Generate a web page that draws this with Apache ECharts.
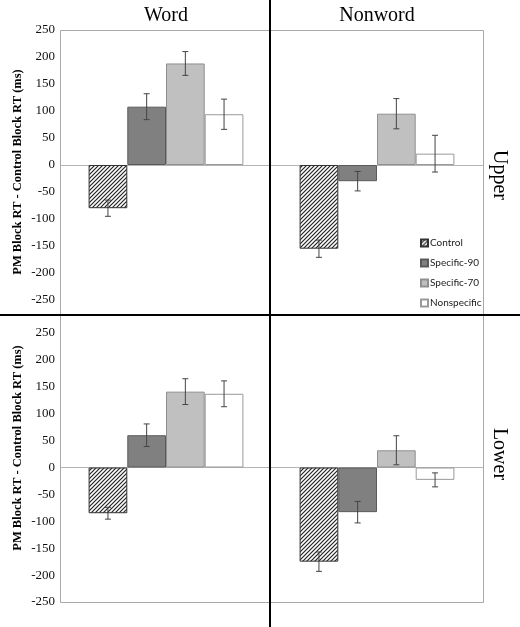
<!DOCTYPE html>
<html>
<head>
<meta charset="utf-8">
<script src="https://cdn.jsdelivr.net/npm/echarts@6/dist/echarts.min.js"></script>
<style>html,body{margin:0;padding:0;background:#fff}#c{width:520px;height:627px}</style>
</head>
<body>
<div id="c"></div>
<script>
// ---- data ----
const conditions = ['Control', 'Specific-90', 'Specific-70', 'Nonspecific'];
const columnTitles = ['Word', 'Nonword'];
const rowTitles = ['Upper', 'Lower'];
const yTicks = [-250, -200, -150, -100, -50, 0, 50, 100, 150, 200, 250];
const yAxisTitle = 'PM Block RT - Control Block RT (ms)';

const wordUpper = [-80, 108, 188, 94];
const wordUpperErr = [15, 24, 22, 28];
const nonwordUpper = [-155, -30, 95, 21];
const nonwordUpperErr = [16, 18, 28, 34];
const wordLower = [-85, 60, 141, 137];
const wordLowerErr = [11, 21, 24, 24];
const nonwordLower = [-175, -83, 32, -23];
const nonwordLowerErr = [18, 20, 27, 13];

const panelValues = [wordUpper, nonwordUpper, wordLower, nonwordLower];
const panelErrors = [wordUpperErr, nonwordUpperErr, wordLowerErr, nonwordLowerErr];

// ---- hatch pattern ----
const pc = document.createElement('canvas');
pc.width = 4; pc.height = 4;
const g = pc.getContext('2d');
g.fillStyle = '#fff'; g.fillRect(0, 0, 4, 4);
g.strokeStyle = '#222'; g.lineWidth = 1.2;
g.beginPath();
g.moveTo(0, 4); g.lineTo(4, 0);
g.moveTo(-1, 1); g.lineTo(1, -1);
g.moveTo(3, 5); g.lineTo(5, 3);
g.stroke();

const styles = [
  { color: { image: pc, repeat: 'repeat' }, borderColor: '#333', borderWidth: 1 },
  { color: '#808080', borderColor: '#5a5a5a', borderWidth: 1 },
  { color: '#c0c0c0', borderColor: '#8f8f8f', borderWidth: 1 },
  { color: '#ffffff', borderColor: '#9a9a9a', borderWidth: 1 }
];

const BW = 38.7;
const grids = [
  { left: 61, top: 30, width: 210, height: 270 },
  { left: 271, top: 30, width: 212, height: 270 },
  { left: 61, top: 333, width: 210, height: 269 },
  { left: 271, top: 333, width: 212, height: 269 }
];

const xAxes = [], yAxes = [], series = [];
grids.forEach((gr, p) => {
  xAxes.push({
    type: 'category', gridIndex: p, data: [columnTitles[p % 2]],
    axisLine: { onZero: true, lineStyle: { color: '#b5b5b5', width: 1 } },
    axisTick: { show: false }, axisLabel: { show: false }, splitLine: { show: false }
  });
  yAxes.push({
    type: 'value', gridIndex: p, min: yTicks[0], max: yTicks[yTicks.length - 1], interval: 50,
    axisLine: { show: false }, axisTick: { show: false }, splitLine: { show: false },
    axisLabel: { show: p % 2 === 0, fontFamily: 'Liberation Serif', fontSize: 13, color: '#111', margin: 6 }
  });
  conditions.forEach((name, k) => {
    series.push({
      name: name, type: 'bar', xAxisIndex: p, yAxisIndex: p,
      data: [panelValues[p][k]], barWidth: BW, barGap: '0%',
      itemStyle: styles[k], emphasis: { disabled: true }, animation: false
    });
  });
  series.push({
    type: 'custom', xAxisIndex: p, yAxisIndex: p, z: 5, animation: false,
    data: panelValues[p].map((v, k) => [0, v, panelErrors[p][k], k]),
    encode: { x: 0, y: 1 },
    renderItem: function (params, api) {
      const v = api.value(1), e = api.value(2), k = api.value(3);
      const cx = api.coord([0, 0])[0] + (k - 1.5) * BW;
      const yt = api.coord([0, v + e])[1];
      const yb = api.coord([0, v - e])[1];
      const st = { stroke: '#444', lineWidth: 1 };
      const cap = 3;
      return {
        type: 'group',
        children: [
          { type: 'line', shape: { x1: cx, y1: yt, x2: cx, y2: yb }, style: st },
          { type: 'line', shape: { x1: cx - cap, y1: yt, x2: cx + cap, y2: yt }, style: st },
          { type: 'line', shape: { x1: cx - cap, y1: yb, x2: cx + cap, y2: yb }, style: st }
        ]
      };
    }
  });
});

const graphic = [
  // panel frames
  { type: 'polyline', shape: { points: [[60.5, 315], [60.5, 30.5], [483.5, 30.5], [483.5, 315]] }, style: { stroke: '#a8a8a8', fill: null, lineWidth: 1 }, z: 1 },
  { type: 'polyline', shape: { points: [[60.5, 315], [60.5, 602.5], [483.5, 602.5], [483.5, 315]] }, style: { stroke: '#a8a8a8', fill: null, lineWidth: 1 }, z: 1 },
  // separators
  { type: 'line', shape: { x1: 270, y1: 0, x2: 270, y2: 627 }, style: { stroke: '#000', lineWidth: 2 }, z: 100 },
  { type: 'line', shape: { x1: 0, y1: 315, x2: 520, y2: 315 }, style: { stroke: '#000', lineWidth: 2 }, z: 100 },
  // column titles
  { type: 'text', x: 166, y: 16, style: { text: columnTitles[0], font: '20px "Liberation Serif"', fill: '#000', textAlign: 'center', textVerticalAlign: 'middle' }, z: 100 },
  { type: 'text', x: 377, y: 16, style: { text: columnTitles[1], font: '20px "Liberation Serif"', fill: '#000', textAlign: 'center', textVerticalAlign: 'middle' }, z: 100 },
  // row titles
  { type: 'text', x: 499, y: 175, rotation: -Math.PI / 2, style: { text: rowTitles[0], font: '20px "Liberation Serif"', fill: '#000', textAlign: 'center', textVerticalAlign: 'middle' }, z: 100 },
  { type: 'text', x: 499, y: 454, rotation: -Math.PI / 2, style: { text: rowTitles[1], font: '20px "Liberation Serif"', fill: '#000', textAlign: 'center', textVerticalAlign: 'middle' }, z: 100 },
  // y axis titles
  { type: 'text', x: 18, y: 172, rotation: Math.PI / 2, style: { text: yAxisTitle, font: 'bold 12.5px "Liberation Serif"', fill: '#000', textAlign: 'center', textVerticalAlign: 'middle' }, z: 100 },
  { type: 'text', x: 18, y: 448, rotation: Math.PI / 2, style: { text: yAxisTitle, font: 'bold 12.5px "Liberation Serif"', fill: '#000', textAlign: 'center', textVerticalAlign: 'middle' }, z: 100 }
];

const chart = echarts.init(document.getElementById('c'), null, { renderer: 'canvas' });
chart.setOption({
  animation: false,
  backgroundColor: '#fff',
  grid: grids.map(gr => Object.assign({ containLabel: false }, gr)),
  xAxis: xAxes,
  yAxis: yAxes,
  legend: {
    data: conditions, orient: 'vertical', left: 420, top: 237, padding: 0,
    itemWidth: 7, itemHeight: 7, itemGap: 8, icon: 'rect',
    selectedMode: false,
    textStyle: { fontFamily: 'Lato', fontSize: 10, color: '#222', padding: [0, 0, 0, -3], lineHeight: 12 }
  },
  series: series,
  graphic: graphic
});
</script>
</body>
</html>
